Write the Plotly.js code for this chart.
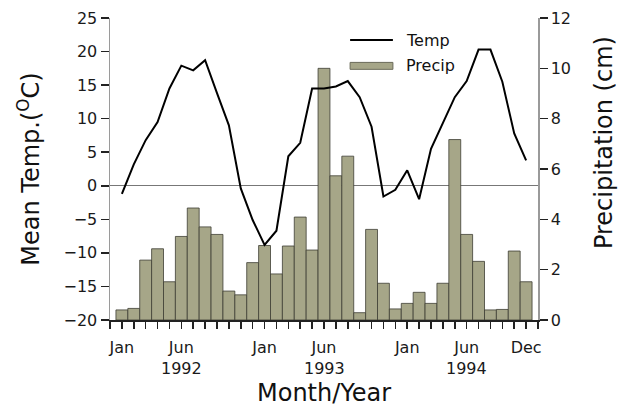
<!DOCTYPE html>
<html>
<head>
<meta charset="utf-8">
<script src="https://cdn.plot.ly/plotly-3.0.1.min.js"></script>
<style>
  html, body { margin: 0; padding: 0; background: #fff; }
  #chart { width: 630px; height: 410px; }
</style>
</head>
<body>
<div id="chart"></div>
<script>
// Months plotted (35 monthly points, Jan 1992 onward)
const months = [
  'Jan 92','Feb 92','Mar 92','Apr 92','May 92','Jun 92','Jul 92','Aug 92','Sep 92','Oct 92','Nov 92','Dec 92',
  'Jan 93','Feb 93','Mar 93','Apr 93','May 93','Jun 93','Jul 93','Aug 93','Sep 93','Oct 93','Nov 93','Dec 93',
  'Jan 94','Feb 94','Mar 94','Apr 94','May 94','Jun 94','Jul 94','Aug 94','Sep 94','Oct 94','Nov 94'
];
// Mean temperature (°C)
const temp = [
  -1.2, 3.2, 6.8, 9.5, 14.5, 17.9, 17.2, 18.7, 13.8, 9.0, -0.4, -5.1,
  -8.8, -6.7, 4.4, 6.4, 14.5, 14.5, 14.8, 15.6, 13.2, 8.8, -1.6, -0.6,
  2.3, -2.0, 5.5, 9.3, 13.2, 15.6, 20.3, 20.3, 15.5, 7.8, 3.8
];
// Precipitation (cm)
const precip = [
  0.40, 0.46, 2.38, 2.83, 1.52, 3.32, 4.45, 3.70, 3.40, 1.15, 1.00, 2.28,
  2.96, 1.83, 2.94, 4.09, 2.78, 10.0, 5.73, 6.51, 0.29, 3.60, 1.46, 0.44,
  0.66, 1.10, 0.66, 1.46, 7.17, 3.40, 2.33, 0.40, 0.42, 2.74, 1.52
];
// Month tick labels shown under the month ticks ('' = tick without label)
const tickLabels = [
  'Jan','','','','','Jun','','','','','','',
  'Jan','','','','','Jun','','','','','','',
  'Jan','','','','','Jun','','','','','Dec'
];
// Year labels, written under each 'Jun' tick
const yearLabels = ['1992', '1993', '1994'];
const seriesNames = ['Temp', 'Precip'];

const FONT = 'DejaVu Sans, Arial, sans-serif';
const BAR_COLOR = '#a6a688';

// month position on the x scale = its order in the list
const xPos = months.map((m, i) => i);
const labelledPos = xPos.filter(i => tickLabels[i] !== '');
const junPos = xPos.filter(i => tickLabels[i] === 'Jun');

const traces = [
  {
    type: 'bar', x: xPos, y: precip, name: seriesNames[1], text: months,
    xaxis: 'x', yaxis: 'y', textposition: 'none',
    marker: { color: BAR_COLOR, line: { color: '#3d3d33', width: 0.8 } },
    showlegend: false, hoverinfo: 'skip'
  },
  {
    type: 'scatter', mode: 'lines', x: xPos, y: temp, name: seriesNames[0],
    xaxis: 'x', yaxis: 'y2',
    line: { color: '#000', width: 2 },
    showlegend: false, hoverinfo: 'skip'
  }
];

const annotations = [
  { text: seriesNames[0], xref: 'paper', yref: 'paper', x: 0.687, y: 0.925,
    xanchor: 'left', yanchor: 'middle', showarrow: false, font: { family: FONT, size: 16, color: '#111' } },
  { text: seriesNames[1], xref: 'paper', yref: 'paper', x: 0.687, y: 0.842,
    xanchor: 'left', yanchor: 'middle', showarrow: false, font: { family: FONT, size: 16, color: '#111' } },
  { text: 'Mean Temp.(<sup>O</sup>C)', xref: 'paper', yref: 'paper', x: -0.19, y: 0.5,
    xanchor: 'center', yanchor: 'middle', textangle: -90, showarrow: false,
    font: { family: FONT, size: 24, color: '#111' } },
  { text: 'Precipitation (cm)', xref: 'paper', yref: 'paper', x: 1.154, y: 0.589,
    xanchor: 'center', yanchor: 'middle', textangle: -90, showarrow: false,
    font: { family: FONT, size: 24, color: '#111' } },
  { text: 'Month/Year', xref: 'paper', yref: 'paper', x: 0.5, y: -0.2947,
    xanchor: 'center', yanchor: 'bottom', showarrow: false,
    font: { family: FONT, size: 24, color: '#111' } }
];
yearLabels.forEach((yr, k) => {
  annotations.push({
    text: yr, xref: 'x', yref: 'paper', x: junPos[k], y: -0.159,
    xanchor: 'center', yanchor: 'middle', showarrow: false,
    font: { family: FONT, size: 16, color: '#1a1a1a' }
  });
});

const layout = {
  width: 630, height: 410,
  margin: { l: 110, r: 92, t: 18, b: 90 },
  paper_bgcolor: '#fff', plot_bgcolor: 'rgba(0,0,0,0)',
  font: { family: FONT, size: 16, color: '#1a1a1a' },
  bargap: 0,
  showlegend: false,
  xaxis: {
    type: 'linear', range: [-1, 35],
    tickmode: 'array', tickvals: labelledPos, ticktext: labelledPos.map(i => tickLabels[i]),
    ticks: 'outside', ticklen: 7, tickwidth: 1.5, tickcolor: '#222',
    ticklabelstandoff: 5,
    minor: { dtick: 1, tick0: 0, ticks: 'outside', ticklen: 7, tickwidth: 1.5, tickcolor: '#222', showgrid: false },
    showline: true, linecolor: '#222', linewidth: 1.5,
    showgrid: false, zeroline: false,
    tickfont: { family: FONT, size: 16, color: '#1a1a1a' }
  },
  yaxis: {
    side: 'right', range: [0, 12], dtick: 2, tick0: 0,
    ticks: 'outside', ticklen: 8, tickwidth: 1.5, tickcolor: '#222',
    showline: true, linecolor: '#9a9a9a', linewidth: 1.5,
    showgrid: false, zeroline: false,
    tickfont: { family: FONT, size: 16, color: '#1a1a1a' }
  },
  yaxis2: {
    overlaying: 'y', side: 'left', range: [-20, 25], dtick: 5, tick0: 0,
    ticks: 'outside', ticklen: 8, tickwidth: 1.5, tickcolor: '#222',
    showline: true, linecolor: '#9a9a9a', linewidth: 1.5,
    showgrid: false,
    zeroline: true, zerolinecolor: '#777', zerolinewidth: 1,
    tickfont: { family: FONT, size: 16, color: '#1a1a1a' }
  },
  shapes: [
    { type: 'line', xref: 'paper', yref: 'paper', x0: 0.561, x1: 0.661, y0: 0.927, y1: 0.927,
      line: { color: '#000', width: 2 } },
    { type: 'rect', xref: 'paper', yref: 'paper', x0: 0.561, x1: 0.661, y0: 0.830, y1: 0.853,
      fillcolor: BAR_COLOR, line: { color: '#6a6a58', width: 1 } }
  ],
  annotations: annotations
};

Plotly.newPlot('chart', traces, layout, { staticPlot: true, displayModeBar: false });
</script>
</body>
</html>
